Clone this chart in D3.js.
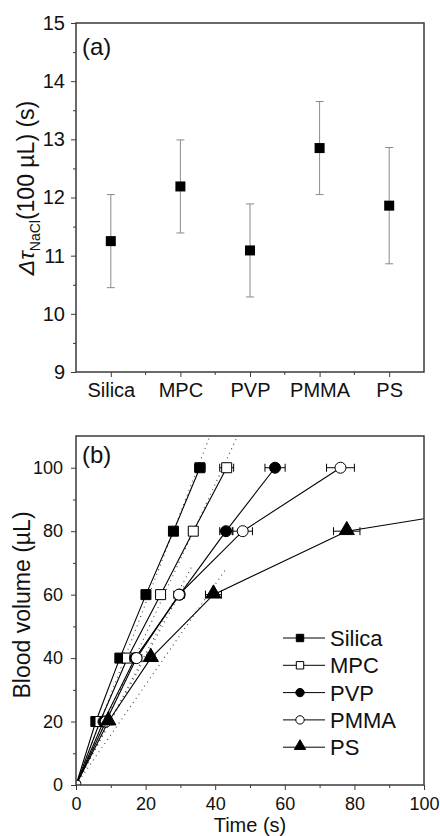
<!DOCTYPE html>
<html lang="en">
<head>
<meta charset="UTF-8">
<title>Blood flow</title>
<script src="https://cdn.jsdelivr.net/npm/d3@7/dist/d3.min.js"></script>
<style>
  body { margin: 0; background: #fff; }
  text { font-family: "Liberation Sans", Arial, sans-serif; fill: #111; }
</style>
</head>
<body>
<script>
// panel (a)
var categories = ["Silica", "MPC", "PVP", "PMMA", "PS"];
var tauMean = [11.25, 12.19, 11.09, 12.85, 11.86];
var tauErr = [0.80, 0.80, 0.80, 0.80, 1.0];
var tauTicks = [9, 10, 11, 12, 13, 14, 15];

// panel (b)
var volumes = [0, 20, 40, 60, 80, 100];
var timeSilica = [0, 5.7, 12.6, 20.1, 28.0, 35.6];
var timeMPC = [0, 6.9, 14.8, 24.3, 33.7, 43.3];
var timePVP = [0, 7.9, 17.0, 29.8, 43.1, 57.2];
var timePMMA = [0, 8.6, 17.4, 29.6, 47.9, 76.0];
var timePS = [0, 9.3, 21.5, 39.5, 77.8, 191];
var errSilica = [0, 0.8, 1.0, 0.8, 1.0, 1.5];
var errMPC = [0, 0.8, 1.2, 1.0, 1.2, 2.0];
var errPVP = [0, 0.8, 1.5, 1.2, 1.8, 2.9];
var errPMMA = [0, 1.0, 1.5, 1.5, 2.8, 4.0];
var errPS = [0, 1.0, 1.2, 2.3, 3.8, 0];
// dotted linear fits from the origin: slope (µL/s) and end time
var fitSlope = [2.86, 2.37, 2.07, 2.02, 1.58];
var fitEnd = [38.5, 46.5, 33.5, 31.5, 43.3];
var timeTicks = [0, 20, 40, 60, 80, 100];
var volTicks = [0, 20, 40, 60, 80, 100];

var width = 440, height = 836;
var frameColor = "#3a3a3a";

var svg = d3.select("body").append("svg")
    .attr("width", width)
    .attr("height", height);

// ---------- panel (a) ----------
var xa = d3.scalePoint().domain(categories).range([76, 424]).padding(0.5);
var ya = d3.scaleLinear().domain([9, 15]).range([372, 23]);

var ga = svg.append("g");

// minor ticks
ga.append("g")
    .attr("transform", "translate(76,0)")
    .call(d3.axisLeft(ya).tickValues(d3.range(9.5, 15, 1)).tickSize(3).tickFormat(""))
    .call(function (g) { g.select(".domain").remove(); });

var step = xa.step();
var bounds = d3.range(1, categories.length).map(function (i) { return 76 + step * i; });
ga.selectAll(".xminor").data(bounds).enter().append("line")
    .attr("x1", function (d) { return d; }).attr("x2", function (d) { return d; })
    .attr("y1", 372).attr("y2", 375)
    .attr("stroke", frameColor);

ga.append("g")
    .attr("class", "axis")
    .attr("transform", "translate(76,0)")
    .call(d3.axisLeft(ya).tickValues(tauTicks).tickSize(5).tickPadding(6).tickFormat(d3.format("d")))
    .call(function (g) { g.select(".domain").remove(); });

ga.append("g")
    .attr("class", "axis")
    .attr("transform", "translate(0,372)")
    .call(d3.axisBottom(xa).tickSize(5).tickPadding(6))
    .call(function (g) { g.select(".domain").remove(); });

ga.append("rect")
    .attr("x", 76).attr("y", 23).attr("width", 348).attr("height", 349)
    .attr("fill", "none").attr("stroke", frameColor).attr("stroke-width", 1.5);

// error bars
var eb = ga.selectAll(".eb").data(categories).enter().append("g");
eb.append("line")
    .attr("x1", function (d) { return xa(d); }).attr("x2", function (d) { return xa(d); })
    .attr("y1", function (d, i) { return ya(tauMean[i] - tauErr[i]); })
    .attr("y2", function (d, i) { return ya(tauMean[i] + tauErr[i]); })
    .attr("stroke", "#8a8a8a").attr("stroke-width", 1);
[-1, 1].forEach(function (s) {
    eb.append("line")
        .attr("x1", function (d) { return xa(d) - 4; }).attr("x2", function (d) { return xa(d) + 4; })
        .attr("y1", function (d, i) { return ya(tauMean[i] + s * tauErr[i]); })
        .attr("y2", function (d, i) { return ya(tauMean[i] + s * tauErr[i]); })
        .attr("stroke", "#8a8a8a").attr("stroke-width", 1);
});
ga.selectAll(".pt").data(categories).enter().append("rect")
    .attr("x", function (d) { return xa(d) - 5; })
    .attr("y", function (d, i) { return ya(tauMean[i]) - 5; })
    .attr("width", 10).attr("height", 10)
    .attr("fill", "#000");

ga.selectAll(".tick line").attr("stroke", frameColor);
ga.selectAll(".tick text").style("font-size", "20px")
    .style("font-family", "'Liberation Sans', Arial, sans-serif").attr("fill", "#111");

ga.append("text").attr("x", 82).attr("y", 55)
    .style("font-size", "24px").text("(a)");

var yla = ga.append("text")
    .attr("transform", "translate(34,188) rotate(-90)")
    .attr("text-anchor", "middle")
    .style("font-size", "23px");
yla.append("tspan").style("font-style", "italic").text("Δτ");
yla.append("tspan").attr("dy", 6).style("font-size", "14px").text("NaCl");
yla.append("tspan").attr("dy", -6).text("(100 µL) (s)");

// ---------- panel (b) ----------
var xb = d3.scaleLinear().domain([0, 100]).range([76, 424]);
var yb = d3.scaleLinear().domain([0, 110]).range([785, 436]);

var gb = svg.append("g");

gb.append("defs").append("clipPath").attr("id", "clipb")
    .append("rect").attr("x", 76).attr("y", 436).attr("width", 348).attr("height", 349);

gb.append("g")
    .attr("transform", "translate(76,0)")
    .call(d3.axisLeft(yb).tickValues(d3.range(10, 110, 20)).tickSize(3).tickFormat(""))
    .call(function (g) { g.select(".domain").remove(); });
gb.append("g")
    .attr("transform", "translate(0,785)")
    .call(d3.axisBottom(xb).tickValues(d3.range(10, 100, 20)).tickSize(3).tickFormat(""))
    .call(function (g) { g.select(".domain").remove(); });
gb.append("g")
    .attr("transform", "translate(76,0)")
    .call(d3.axisLeft(yb).tickValues(volTicks).tickSize(5).tickPadding(8))
    .call(function (g) { g.select(".domain").remove(); });
gb.append("g")
    .attr("transform", "translate(0,785)")
    .call(d3.axisBottom(xb).tickValues(timeTicks).tickSize(5).tickPadding(7))
    .call(function (g) { g.select(".domain").remove(); });

gb.selectAll(".tick line").attr("stroke", frameColor);
gb.selectAll(".tick text").style("font-size", "18px")
    .style("font-family", "'Liberation Sans', Arial, sans-serif").attr("fill", "#111");

var series = [
    { name: "Silica", t: timeSilica, e: errSilica, shape: "square", fill: "#000" },
    { name: "MPC", t: timeMPC, e: errMPC, shape: "square", fill: "#fff" },
    { name: "PVP", t: timePVP, e: errPVP, shape: "circle", fill: "#000" },
    { name: "PMMA", t: timePMMA, e: errPMMA, shape: "circle", fill: "#fff" },
    { name: "PS", t: timePS, e: errPS, shape: "triangle", fill: "#000" }
];

var plot = gb.append("g").attr("clip-path", "url(#clipb)");

// dotted fits
plot.selectAll(".fit").data(series).enter().append("line")
    .attr("x1", xb(0)).attr("y1", yb(0))
    .attr("x2", function (d, i) { return xb(fitEnd[i]); })
    .attr("y2", function (d, i) { return yb(fitSlope[i] * fitEnd[i]); })
    .attr("stroke", "#444").attr("stroke-width", 1.1)
    .attr("stroke-dasharray", "1,4");

var line = d3.line()
    .x(function (d) { return xb(d[0]); })
    .y(function (d) { return yb(d[1]); });

plot.selectAll(".ser").data(series).enter().append("path")
    .attr("d", function (s) { return line(s.t.map(function (t, i) { return [t, volumes[i]]; })); })
    .attr("fill", "none").attr("stroke", "#000").attr("stroke-width", 1.1);

function symbolFor(shape, size) {
    var type = shape === "square" ? d3.symbolSquare : shape === "circle" ? d3.symbolCircle : d3.symbolTriangle;
    return d3.symbol().type(type).size(size)();
}

series.forEach(function (s) {
    var pts = s.t.map(function (t, i) { return { t: t, v: volumes[i], e: s.e[i] }; })
        .filter(function (p) { return p.v > 0 && p.t <= 100; });
    var g = plot.append("g");
    // horizontal error bars
    pts.forEach(function (p) {
        if (p.e <= 0) return;
        var y = yb(p.v), x0 = xb(p.t - p.e), x1 = xb(p.t + p.e);
        g.append("line").attr("x1", x0).attr("x2", x1).attr("y1", y).attr("y2", y)
            .attr("stroke", "#000").attr("stroke-width", 1);
        [x0, x1].forEach(function (x) {
            g.append("line").attr("x1", x).attr("x2", x).attr("y1", y - 4).attr("y2", y + 4)
                .attr("stroke", "#000").attr("stroke-width", 1);
        });
    });
    var size = s.shape === "circle" ? 95 : s.shape === "triangle" ? 100 : 100;
    g.selectAll("path.m").data(pts).enter().append("path")
        .attr("transform", function (p) {
            var dy = s.shape === "triangle" ? -1 : 0;
            return "translate(" + xb(p.t) + "," + (yb(p.v) + dy) + ")";
        })
        .attr("d", symbolFor(s.shape, size))
        .attr("fill", s.fill).attr("stroke", "#000").attr("stroke-width", 1);
});

// origin marker
plot.append("path")
    .attr("transform", "translate(" + xb(0.5) + "," + yb(0.5) + ")")
    .attr("d", symbolFor("circle", 30))
    .attr("fill", "#fff").attr("stroke", "#000");

gb.append("rect")
    .attr("x", 76).attr("y", 436).attr("width", 348).attr("height", 349)
    .attr("fill", "none").attr("stroke", frameColor).attr("stroke-width", 1.5);

// legend
var leg = gb.selectAll(".leg").data(series).enter().append("g")
    .attr("transform", function (d, i) { return "translate(283," + (638 + i * 27.3) + ")"; });
leg.append("line").attr("x1", 0).attr("x2", 42).attr("y1", 0).attr("y2", 0)
    .attr("stroke", "#000").attr("stroke-width", 1);
leg.append("path")
    .attr("transform", function (d) { return "translate(17," + (d.shape === "triangle" ? -1 : 0) + ")"; })
    .attr("d", function (d) { return symbolFor(d.shape, 55); })
    .attr("fill", function (d) { return d.fill; })
    .attr("stroke", "#000").attr("stroke-width", 1);
leg.append("text").attr("x", 47).attr("y", 8)
    .style("font-size", "22px").text(function (d) { return d.name; });

gb.append("text").attr("x", 82).attr("y", 463)
    .style("font-size", "24px").text("(b)");

gb.append("text")
    .attr("transform", "translate(30,605) rotate(-90)")
    .attr("text-anchor", "middle")
    .style("font-size", "23px")
    .text("Blood volume (µL)");

gb.append("text")
    .attr("x", 250).attr("y", 832)
    .attr("text-anchor", "middle")
    .style("font-size", "20px")
    .text("Time (s)");
</script>
</body>
</html>
